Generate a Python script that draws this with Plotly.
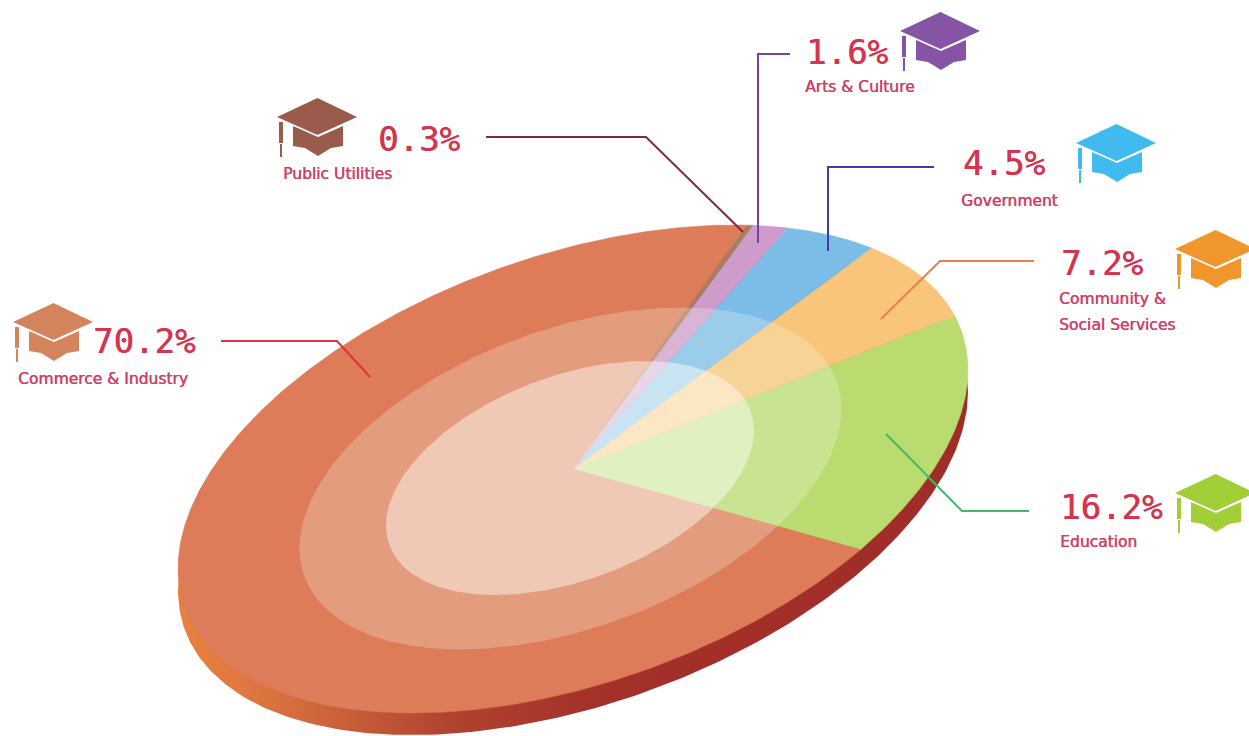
import numpy as np
import plotly.graph_objects as go

# ---- data (order runs counter-clockwise round the pie, starting at Education) ----
categories = ["Education", "Community &\nSocial Services", "Government", "Arts & Culture", "Public Utilities", "Commerce & Industry"]
values = [16.2, 7.2, 4.5, 1.6, 0.3, 70.2]
pct_labels = ["16.2%", "7.2%", "4.5%", "1.6%", "0.3%", "70.2%"]
slice_colors = ["#B9DB70", "#F9C57A", "#7CBDE8", "#CF9BCB", "#A87E62", "#DE7B58"]
cap_colors = ["#A2CE38", "#F0962B", "#41BAF0", "#8554A5", "#9A5A4C", "#D4845C"]
line_colors = ["#3DBB6A", "#EA7E50", "#3C3FA8", "#7B3FA0", "#7F2F33", "#E0323C"]

# ---- layout of the picture, in pixels ----
W, H = 1249, 736
CX, CY = 573, 469
A, B, PHI = 395, 244, np.radians(66)
DEPTH = 22
START = -43.3
TXT = "#D6344E"
LBL = "#CF3F66"

pct_pos = [(1060, 507), (1061, 263), (963, 163), (806, 52), (378, 139), (93, 341)]
lbl_pos = [[(1060, 542)], [(1059, 299), (1059, 325)], [(961, 201)], [(805, 87)], [(283, 174)], [(18, 379)]]
cap_pos = [(1175, 474), (1175, 230), (1076, 124), (900, 12), (277, 98), (13, 303)]
leaders = [
    [(1029, 511), (962, 511), (886, 434)],
    [(1034, 261), (940, 261), (881, 319)],
    [(934, 167), (828, 167), (828, 251)],
    [(790, 54), (758, 54), (758, 243)],
    [(486, 137), (646, 137), (743, 232)],
    [(221, 341), (337, 341), (370, 377)],
]


def ell(t, cx=CX, cy=CY, a=A, b=B):
    """Point on the tilted ellipse at parametric angle t (radians)."""
    return cx + a * np.cos(t), cy - b * np.cos(t - PHI)


fig = go.Figure()


def poly(xs, ys, color, line=0.0):
    fig.add_trace(go.Scatter(
        x=list(xs), y=list(ys), mode="lines", fill="toself", fillcolor=color,
        line=dict(color=color, width=line), hoverinfo="skip", showlegend=False))


# side wall
t = np.linspace(0, 2 * np.pi, 361)
sx, sy = ell(t, cy=CY + DEPTH)
fig.add_trace(go.Scatter(
    x=sx, y=sy, mode="lines", fill="toself", line=dict(width=0, color="#A32E29"),
    fillgradient=dict(type="horizontal", colorscale=[
        [0.0, "#E9813E"], [0.1, "#DD7540"], [0.2, "#CB623A"], [0.35, "#B0412F"], [0.55, "#A4302A"], [1.0, "#A02C28"]]),
    hoverinfo="skip", showlegend=False))

# slices, sized from the values
ang = START
for v, c in zip(values, slice_colors):
    span = v / sum(values) * 360
    tt = np.radians(np.linspace(ang, ang + span, max(3, int(span * 2))))
    x, y = ell(tt)
    poly(np.r_[CX, x, CX], np.r_[CY, y, CY], c, 0.5)
    ang += span

# translucent rings
for cx, cy, a, b, col in [(570.5, 478.5, 271, 171, "rgba(246,255,244,0.25)"), (570, 478, 184, 117, "rgba(255,255,251,0.45)")]:
    x, y = ell(t, cx, cy, a, b)
    poly(x, y, col)

# leader lines
for pts, c in zip(leaders, line_colors):
    fig.add_trace(go.Scatter(
        x=[p[0] for p in pts], y=[p[1] for p in pts], mode="lines",
        line=dict(color=c, width=2), hoverinfo="skip", showlegend=False))

# graduation caps
BOARD = [(0, 19), (40.5, 0), (80, 19), (40.5, 37)]
BASE = [(16, 28), (41, 39), (66, 28), (66, 48), (54, 50), (41, 58), (28, 50), (16, 48)]
TASSEL = [(2, 24), (6, 24), (6, 45), (2, 45)]
STEM = [(3, 46), (5, 46), (5, 59), (3, 59)]
for (ox, oy), c in zip(cap_pos, cap_colors):
    for part in (BOARD, BASE, TASSEL, STEM):
        poly([ox + p[0] for p in part] + [ox + part[0][0]],
             [oy + p[1] for p in part] + [oy + part[0][1]], c)

# text
ann = []
for s, (x, y) in zip(pct_labels, pct_pos):
    ann.append(dict(x=x, y=y, text=s, xanchor="left", yanchor="middle", showarrow=False,
                    xref="x", yref="y", xshift=-2,
                    font=dict(family="DejaVu Sans Mono", size=34, color=TXT,
                              shadow=f"0.6px 0 0 {TXT}")))
for name, ps in zip(categories, lbl_pos):
    for part, (x, y) in zip(name.split("\n"), ps):
        ann.append(dict(x=x, y=y, text=part, xanchor="left", yanchor="middle", showarrow=False,
                        xref="x", yref="y", xshift=-2,
                        font=dict(family="DejaVu Sans", size=15.5, color=LBL,
                                  shadow=f"0.5px 0 0 {LBL}")))

fig.update_layout(
    width=W, height=H, margin=dict(l=0, r=0, t=0, b=0),
    paper_bgcolor="white", plot_bgcolor="white", showlegend=False, annotations=ann,
    xaxis=dict(range=[0, W], visible=False, fixedrange=True),
    yaxis=dict(range=[H, 0], visible=False, fixedrange=True),
)

fig.write_html("out.html", config=dict(displayModeBar=False),
               post_script="document.body.style.margin='0';document.body.style.overflow='hidden';")
